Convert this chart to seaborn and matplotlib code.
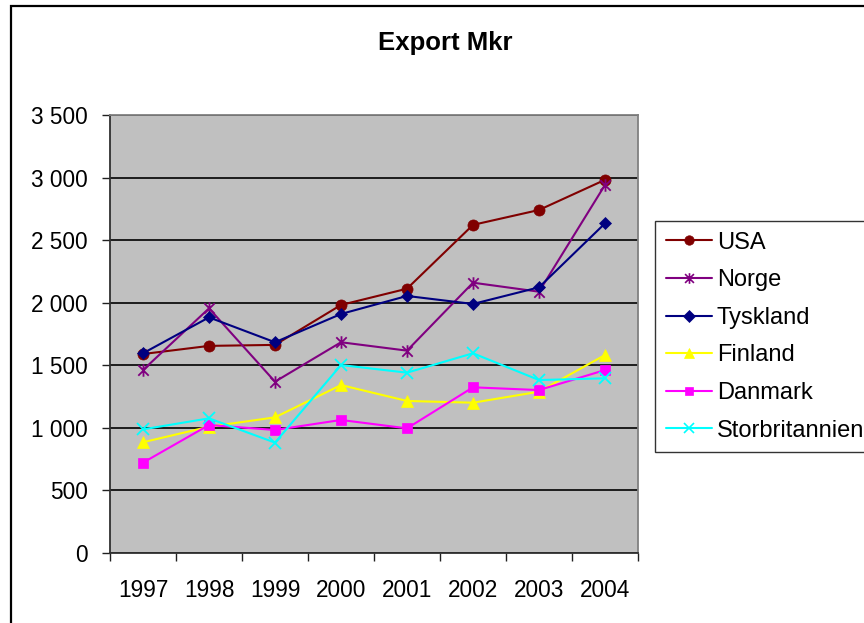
import matplotlib
matplotlib.use("Agg")
import matplotlib.pyplot as plt
import matplotlib.patches as mpatches
from matplotlib.ticker import FixedLocator, FuncFormatter
from matplotlib.lines import Line2D
from matplotlib.path import Path
import pandas as pd
import seaborn as sns

years = [1997, 1998, 1999, 2000, 2001, 2002, 2003, 2004]
countries = ["USA", "Norge", "Tyskland", "Finland", "Danmark", "Storbritannien"]
usa = [1590, 1655, 1663, 1982, 2112, 2622, 2741, 2982]
norge = [1462, 1955, 1369, 1684, 1617, 2160, 2088, 2941]
tyskland = [1596, 1883, 1684, 1910, 2054, 1990, 2123, 2634]
finland = [885, 1009, 1084, 1342, 1215, 1201, 1289, 1582]
danmark = [722, 1023, 983, 1063, 996, 1324, 1302, 1462]
storbritannien = [988, 1076, 882, 1502, 1441, 1596, 1382, 1396]

# Excel-style star: an x with a vertical stroke through it
star = Path([(-1, -1), (1, 1), (-1, 1), (1, -1), (0, -1.2), (0, 1.2)],
            [Path.MOVETO, Path.LINETO, Path.MOVETO, Path.LINETO, Path.MOVETO, Path.LINETO])

colors = ["#800000", "#800080", "#000080", "#FFFF00", "#FF00FF", "#00FFFF"]
markers = ["o", star, "D", "^", "s", "x"]
msizes = [8, 9, 6.6, 8.5, 7, 8]
thin_marks = [False, True, False, False, False, True]

series = [usa, norge, tyskland, finland, danmark, storbritannien]
df = pd.concat(
    [pd.DataFrame({"year": years, "value": v, "country": c}) for c, v in zip(countries, series)],
    ignore_index=True,
)

sns.set_style("white")
plt.rcParams["font.family"] = ["Liberation Sans", "DejaVu Sans"]
plt.rcParams["text.color"] = "black"
plt.rcParams["xtick.color"] = "black"
plt.rcParams["ytick.color"] = "black"

fig = plt.figure(figsize=(8.64, 6.23), dpi=100)
ax = fig.add_axes([110 / 864, 1 - 553 / 623, 528 / 864, 438 / 623])
ax.set_facecolor("#C0C0C0")

handles = []
for c, col, mk, ms, thin in zip(countries, colors, markers, msizes, thin_marks):
    sub = df[df["country"] == c]
    sns.lineplot(data=sub, x="year", y="value", ax=ax, color=col, marker=mk,
                 markersize=ms, markeredgecolor=col, markerfacecolor=col,
                 markeredgewidth=1.3 if thin else 0.5,
                 linewidth=1.5, legend=False, zorder=3)
    handles.append(Line2D([], [], color=col, marker=mk, markersize=ms * 0.85,
                          markeredgecolor=col, markerfacecolor=col,
                          markeredgewidth=1.2 if thin else 0.5,
                          linewidth=1.5))

ax.set_xlim(1996.5, 2004.5)
ax.set_ylim(0, 3500)
ax.set_xticks(years)
ax.set_xticklabels([str(y) for y in years])
ax.xaxis.set_minor_locator(FixedLocator([y - 0.5 for y in years] + [2004.5]))
ax.tick_params(axis="x", which="major", length=0, pad=19, labelsize=16.3)
ax.tick_params(axis="x", which="minor", length=6, width=1, color="#202020", direction="out", bottom=True)
ax.set_yticks(range(0, 3501, 500))
ax.yaxis.set_major_formatter(FuncFormatter(lambda v, p: f"{int(v):,}".replace(",", " ")))
ax.tick_params(axis="y", length=6, width=1, color="#202020", direction="out", left=True,
               labelsize=16.3, pad=10)
ax.grid(axis="y", color="black", linewidth=1.2, zorder=1)
ax.set_axisbelow(True)
ax.set_xlabel("")
ax.set_ylabel("")
for side in ["left", "bottom"]:
    ax.spines[side].set_color("#303030")
    ax.spines[side].set_linewidth(1.3)
for side in ["top", "right"]:
    ax.spines[side].set_color("#808080")
    ax.spines[side].set_linewidth(1.3)

fig.text(445 / 864, 1 - 43 / 623, "Export Mkr", ha="center", va="center",
         fontsize=18.5, fontweight="bold")

leg = fig.legend(handles, countries, loc="upper left", bbox_to_anchor=(655 / 864, 1 - 221 / 623),
                 frameon=True, fancybox=False, fontsize=17, handlelength=1.95,
                 handletextpad=0.22, labelspacing=0.66, borderpad=0.45, borderaxespad=0)
leg.get_frame().set_edgecolor("black")
leg.get_frame().set_linewidth(1.0)

border = mpatches.Rectangle((11 / 864, -0.1), 1.2, 1.1 - 6 / 623, transform=fig.transFigure,
                            fill=False, edgecolor="black", linewidth=1.6, clip_on=False)
fig.patches.append(border)

fig.savefig("out.png", dpi=100)
